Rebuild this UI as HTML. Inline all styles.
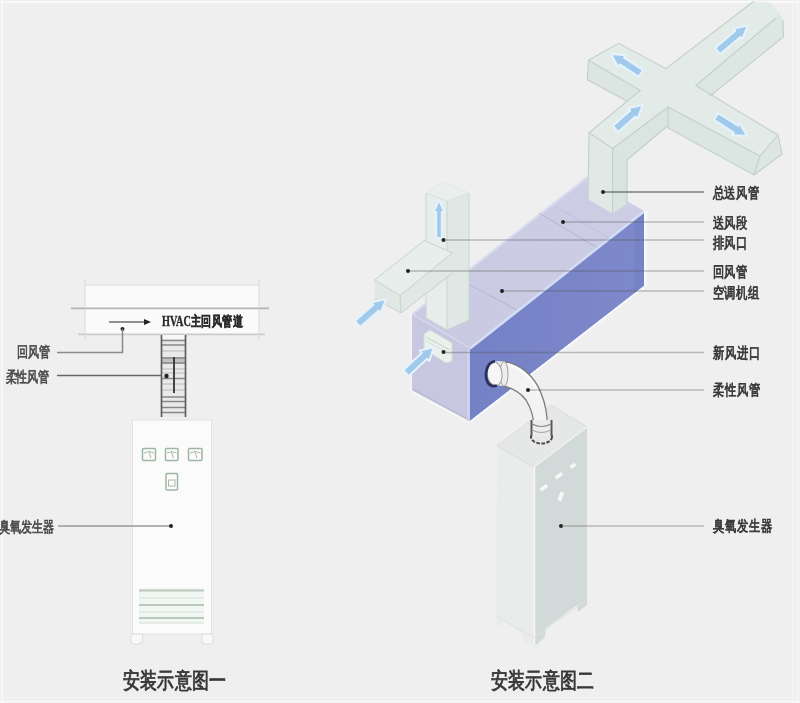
<!DOCTYPE html>
<html><head><meta charset="utf-8">
<style>
html,body{margin:0;padding:0;background:#efefef;}
body{width:800px;height:703px;overflow:hidden;position:relative;font-family:"Liberation Sans",sans-serif;}
svg{position:absolute;left:0;top:0;filter:blur(0.6px);}
text{font-family:"Liberation Sans",sans-serif;}
</style></head>
<body>
<svg width="800" height="703" viewBox="0 0 800 703">
<defs>
<linearGradient id="front" x1="0" y1="0" x2="1" y2="0">
<stop offset="0" stop-color="#7581c6"/><stop offset="1" stop-color="#7d89ca"/>
</linearGradient>
<linearGradient id="top" x1="0" y1="1" x2="1" y2="0">
<stop offset="0" stop-color="#c9cae1"/><stop offset="1" stop-color="#cdcee5"/>
</linearGradient>
<linearGradient id="fadeTop" x1="0" y1="0" x2="0" y2="1">
<stop offset="0" stop-color="#e8eeec" stop-opacity="0"/><stop offset="0.35" stop-color="#e4ece9" stop-opacity="1"/>
</linearGradient>
</defs>
<rect x="0" y="0" width="800" height="703" fill="#efefef"/>
<rect x="0" y="1" width="800" height="2" fill="#f9f9f9"/>
<rect x="1" y="0" width="2" height="703" fill="#f7f7f7"/>
<rect x="792" y="0" width="1.5" height="703" fill="#f4f4f4"/>
<rect x="797" y="0" width="1.5" height="703" fill="#f6f6f6"/>
<rect x="0" y="697" width="800" height="1.5" fill="#f4f4f4"/>
<rect x="0" y="700.5" width="800" height="2" fill="#f8f8f8"/>

<!-- ============ LEFT DIAGRAM ============ -->
<rect x="85" y="285" width="174" height="49" fill="#fafafa"/>
<line x1="71" y1="308.3" x2="269" y2="308.3" stroke="#b4b4b4" stroke-width="1.7"/>
<line x1="78" y1="334.3" x2="265" y2="334.3" stroke="#c6cdc4" stroke-width="1.7"/>
<line x1="85" y1="285" x2="259" y2="285" stroke="#d9d9d9" stroke-width="1.2"/>
<line x1="85" y1="280" x2="85" y2="340" stroke="#dadada" stroke-width="1"/>
<line x1="259" y1="280" x2="259" y2="340" stroke="#dadada" stroke-width="1"/>
<line x1="109" y1="322" x2="146" y2="322" stroke="#6a6a6a" stroke-width="1.3"/>
<polygon points="144,319 151,322 144,325" fill="#222"/>
<text transform="translate(162 326) scale(1 1.3)" font-size="11" font-weight="bold" fill="#2a2a2a" stroke="#2a2a2a" stroke-width="0.3" textLength="81" lengthAdjust="spacingAndGlyphs" style="font-family:'Liberation Serif',serif">HVAC主回风管道</text>
<circle cx="122.5" cy="329" r="2" fill="#222"/>
<polyline points="122.5,329 122.5,352.5 57,352.5" fill="none" stroke="#8a8a8a" stroke-width="1.5"/>
<line x1="57" y1="375.5" x2="166" y2="375.5" stroke="#666" stroke-width="1.5"/>
<g font-size="11.3" fill="#3e3e3e" stroke="#4a4a4a" stroke-width="0.5">
<text transform="translate(17 357) scale(1 1.35)">回风管</text>
<text transform="translate(5.5 381.5) scale(1 1.35)">柔性风管</text>
<text transform="translate(-1 531.7) scale(1 1.35)">臭氧发生器</text>
</g>

<!-- flexible duct -->
<rect x="161" y="335" width="25" height="82" fill="#ebe8e8"/>
<rect x="161" y="335" width="25" height="4" fill="#f8f8f8"/>
<rect x="161" y="357" width="25" height="7" fill="#c2c0c0"/>
<line x1="161" y1="358" x2="186" y2="358" stroke="#8a8a8a" stroke-width="1.5"/>
<line x1="161" y1="363" x2="186" y2="363" stroke="#8a8a8a" stroke-width="1.5"/>
<g stroke="#888" stroke-width="1.5">
<line x1="161" y1="340.5" x2="186" y2="340.5"/>
<line x1="161" y1="345" x2="186" y2="345"/>
<line x1="161" y1="378.5" x2="186" y2="378.5"/>
<line x1="161" y1="397" x2="186" y2="397"/>
<line x1="161" y1="401.5" x2="186" y2="401.5"/>
<line x1="161" y1="407.5" x2="186" y2="407.5"/>
<line x1="161" y1="412.5" x2="186" y2="412.5"/>
</g>
<g stroke="#c4c0c0" stroke-width="1.2">
<line x1="161" y1="351" x2="186" y2="351"/>
<line x1="161" y1="369" x2="186" y2="369"/>
<line x1="161" y1="373" x2="186" y2="373"/>
<line x1="161" y1="384" x2="186" y2="384"/>
<line x1="161" y1="390" x2="186" y2="390"/>
</g>
<g stroke="#5e5e5e" stroke-width="1.7">
<line x1="161.5" y1="335" x2="161.5" y2="417"/>
<line x1="185.5" y1="335" x2="185.5" y2="417"/>
</g>
<line x1="174" y1="357" x2="174" y2="393" stroke="#333" stroke-width="1.8"/>
<circle cx="166.5" cy="376" r="2.2" fill="#222"/>

<!-- cabinet 1 -->
<rect x="132.5" y="420" width="79" height="214" fill="#fbfbfb" stroke="#e2e2e2" stroke-width="1"/>
<g fill="none" stroke="#9db6a3" stroke-width="1.5">
<rect x="142.5" y="448.5" width="13" height="12" rx="1"/>
<rect x="165.5" y="448.5" width="12.5" height="12" rx="1"/>
<rect x="188.5" y="448.5" width="13.5" height="12" rx="1"/>
<rect x="166" y="473.5" width="11.5" height="16.5" rx="1"/>
</g>
<g fill="none" stroke="#a9b7ac" stroke-width="1">
<path d="M144,453 Q149,450 154,453"/><line x1="149" y1="452" x2="151" y2="458"/>
<path d="M167,453 Q171.5,450 176.5,453"/><line x1="171.5" y1="452" x2="173.5" y2="458"/>
<path d="M190,453 Q195,450 200.5,453"/><line x1="195" y1="452" x2="197" y2="458"/>
<rect x="168.5" y="480" width="6.5" height="6"/>
</g>
<rect x="139" y="588" width="65" height="35" fill="#f0f6f2"/>
<g stroke="#b9c8bd" stroke-width="1.8">
<line x1="139" y1="590.5" x2="204" y2="590.5"/>
<line x1="139" y1="605" x2="204" y2="605"/>
<line x1="139" y1="618" x2="204" y2="618"/>
</g>
<g stroke="#d8e0da" stroke-width="1">
<line x1="139" y1="598" x2="204" y2="598"/>
<line x1="139" y1="612" x2="204" y2="612"/>
<line x1="139" y1="623" x2="204" y2="623"/>
</g>
<path d="M131,634 L131,643 Q136,646 142,643 L143,634 Z" fill="#f8f8f8" stroke="#dcdcdc" stroke-width="1"/>
<path d="M202,634 L202,643 Q207,646 213,643 L213,634 Z" fill="#f8f8f8" stroke="#dcdcdc" stroke-width="1"/>
<line x1="58" y1="526" x2="170" y2="526" stroke="#9a9a9a" stroke-width="1.5"/>
<circle cx="171" cy="526" r="2" fill="#222"/>

<text transform="translate(123 688) scale(1 1.3)" font-size="17.2" fill="#333" stroke="#3a3a3a" stroke-width="0.7">安装示意图一</text>

<!-- ============ RIGHT DIAGRAM ============ -->
<!-- AHU box -->
<polygon points="412,314 470,348 644,211 586,177" fill="url(#top)"/>
<polygon points="412,314 470,348 470,421 412,390" fill="#c7c7e1"/>
<polygon points="470,348 644,211 644,286 470,421" fill="url(#front)"/>
<polygon points="634,219 644,211 644,286 634,294" fill="#6b77bd" opacity="0.35"/>
<line x1="470" y1="348.5" x2="644" y2="211.5" stroke="#d3def4" stroke-width="2.5"/>
<line x1="412" y1="314" x2="470" y2="348" stroke="#d8daee" stroke-width="1.2"/>
<line x1="413" y1="313.5" x2="587" y2="177.5" stroke="#d9ddf0" stroke-width="2"/>
<line x1="470" y1="422" x2="644" y2="287" stroke="#f6f8fc" stroke-width="2"/>
<line x1="645.5" y1="211" x2="645.5" y2="287" stroke="#f7f8fb" stroke-width="2.5"/>
<line x1="411" y1="314" x2="411" y2="391" stroke="#f5f5f8" stroke-width="1.5"/>
<line x1="413" y1="389.5" x2="470" y2="420.5" stroke="#b9bad3" stroke-width="1.5"/>
<line x1="412" y1="392" x2="470" y2="423" stroke="#f5f6f9" stroke-width="1.5"/>
<line x1="468.5" y1="349" x2="468.5" y2="421" stroke="#ccd4f0" stroke-width="2.5"/>
<!-- top face dividers -->
<line x1="470" y1="285" x2="517" y2="310" stroke="#b3b5d6" stroke-width="1"/>
<line x1="539" y1="213" x2="596" y2="247" stroke="#b3b5d6" stroke-width="1"/>
<line x1="555" y1="206" x2="609" y2="238" stroke="#bfc1de" stroke-width="1"/>
<polygon points="586,177 644,211 627,205 586,190" fill="#d0d4ea" opacity="0.5"/>

<!-- exhaust duct vertical -->
<polygon points="426,193 447,201 447,330 426,318" fill="#e6edeb"/>
<polygon points="447,201 469,193 469,320 447,330" fill="#e0e8e5"/>
<polygon points="426,193 444,182 469,193 447,201" fill="#e9efed"/>
<g fill="none" stroke="#c9d5d0" stroke-width="1">
<polyline points="426,193 426,318 447,330 469,320 469,193"/>
<line x1="447" y1="201" x2="447" y2="330"/>
<polyline points="426,193 447,201 469,193" stroke="#d8e0dc"/>
<polyline points="426,193 444,182 469,193" stroke="#e2e8e5"/>
</g>
<!-- return duct horizontal -->
<polygon points="374.5,280 424.5,240.5 452.5,253 400,295.5" fill="#e7eeec"/>
<polygon points="400,295.5 452.5,253 452.5,273 401,313" fill="#e0e8e5"/>
<polygon points="374.5,280 400,295.5 401,313 375,299" fill="#e0e8e5"/>
<g fill="none" stroke="#c6d3cd" stroke-width="1">
<polyline points="374.5,280 424.5,240.5 452.5,253 400,295.5 374.5,280"/>
<polyline points="375,299 401,313 452.5,273"/>
<line x1="400" y1="295.5" x2="401" y2="313"/>
</g>

<!-- fresh air inlet -->
<polygon points="424,334 430,330 452,343 452,361 446,363 424,349" fill="#e9f1eb" stroke="#d2ddd6" stroke-width="1"/>
<line x1="426" y1="337" x2="450" y2="350" stroke="#cbd8cf" stroke-width="1.2"/>
<line x1="426" y1="341" x2="450" y2="354" stroke="#d6e1da" stroke-width="1"/>
<!-- supply vertical duct + cross -->
<polygon points="589,132.8 612.6,148.5 612.6,213.7 588,199" fill="#e0e9e6"/>
<polygon points="612.6,148.5 627,160 627,204 612.6,213.7" fill="#d9e3e0"/>
<polygon points="588.5,60.2 618.7,43.3 665.9,68.7 753.5,1.5 771,3 778,11 776,18 695.75,85.5 778,135 760,156 668,107 612.6,148.5 589,132.8 627,101.3 640.5,90.5" fill="#e3ebe9"/>
<polygon points="588.5,60.2 640.5,90.5 627,101.3 587.3,79.6" fill="#dbe5e2"/>
<polygon points="612.6,148.5 668,107 668,125.5 627,160" fill="#dae4e1"/>
<polygon points="668,107 760,156 754,175 668,128" fill="#dbe5e2"/>
<polygon points="760,156 778,135 782,154 754,175" fill="#dde6e3"/>
<polygon points="695.75,85.5 776,18 778,11 783,20 783.5,36.75 710,96" fill="#dce6e3"/>
<g fill="none" stroke="#c2d0c9" stroke-width="1.1">
<polyline points="588.5,60.2 618.7,43.3 665.9,68.7 753.5,1.5"/>
<polyline points="776,18 695.75,85.5 778,135 760,156 668,107 612.6,148.5 589,132.8 627,101.3 640.5,90.5 588.5,60.2 587.3,79.6 627,101.3"/>
<polyline points="668,107 668,128 754,175 760,156"/>
<polyline points="754,175 782,154 778,135"/>
<polyline points="783,20 783.5,36.75 710,96"/>
<polyline points="627,160 668,125.5"/>
<line x1="589" y1="132.8" x2="588" y2="199"/>
<line x1="612.6" y1="148.5" x2="612.6" y2="213.7"/>
<line x1="627" y1="160" x2="627" y2="204"/>
</g>
<!-- cross arrows -->

<g fill="#9fcaec" stroke="#e6f3fc" stroke-width="2" stroke-linejoin="round">
<path d="M643.2,70.1 L624.1,57.7 L625.7,55.2 L611.0,54.0 L618.1,67.0 L619.7,64.4 L638.8,76.9 Z"/>
<path d="M618.2,132.0 L635.5,116.6 L637.5,118.9 L642.6,105.0 L628.2,108.4 L630.2,110.6 L612.8,126.0 Z"/>
<path d="M720.2,54.1 L740.4,37.0 L742.3,39.2 L747.7,25.5 L733.3,28.6 L735.2,30.9 L715.0,47.9 Z"/>
<path d="M713.9,119.9 L733.9,132.5 L732.3,135.0 L747.0,136.0 L739.7,123.2 L738.1,125.7 L718.1,113.1 Z"/>
<path d="M360.1,327.0 L378.9,310.6 L380.8,312.8 L386.0,299.0 L371.6,302.3 L373.6,304.6 L354.9,321.0 Z"/>
<path d="M408.7,375.9 L427.2,358.8 L429.2,361.0 L434.0,347.0 L419.7,350.7 L421.8,352.9 L403.3,370.1 Z"/>
<path d="M441.8,238.0 L441.8,212.0 L444.5,212.0 L439.0,200.0 L433.5,212.0 L436.2,212.0 L436.2,238.0 Z"/>
</g>
<!-- cabinet 2 -->
<polygon points="497,446 534,467 534,647 522,641 522,633 503,621 502,627 496,625" fill="#eaecec"/>
<polygon points="534,467 587,427 587,605 578,612 577,605 546,628 545,637 534,647" fill="#d1dad8"/>
<polygon points="497,446 551,405 587,427 534,467" fill="#e6e8e7" stroke="#d8dcda" stroke-width="1"/>
<line x1="534" y1="467" x2="587" y2="427" stroke="#f2f4f3" stroke-width="1.2"/>
<line x1="534.5" y1="467" x2="534.5" y2="646" stroke="#f4f6f5" stroke-width="1.5"/>
<polyline points="496,615 522,631 534,638 546,629 587,600" fill="none" stroke="#dde2e1" stroke-width="1"/>
<g fill="#f4f8f6">
<rect x="540" y="486" width="8" height="3.5" transform="rotate(-37 544 488)"/>
<rect x="555" y="474" width="8" height="3.5" transform="rotate(-37 559 476)"/>
<rect x="570" y="464" width="6" height="3.5" transform="rotate(-37 573 466)"/>
<rect x="559" y="492" width="4" height="9" transform="rotate(20 561 496)"/>
</g>

<!-- flexible hose right -->
<path d="M503,361.5 C520,363 535,377 541,393 C546,405 547.5,417 547.5,428 L534,428 C534,419 531.5,409 526,400 C520,392 512,388 503,386 Z" fill="#f3f3f3" stroke="#7a7a7a" stroke-width="1.3"/>
<path d="M506,364 C520,367 532,378 538,393" fill="none" stroke="#ffffff" stroke-width="2" opacity="0.8"/>
<ellipse cx="541.5" cy="437" rx="10.5" ry="6.5" fill="#e8e8e8" stroke="#4a4a4a" stroke-width="2" stroke-dasharray="3.5 1.5"/>
<rect x="531.5" y="420" width="20" height="16" fill="#ececec"/>
<line x1="531.5" y1="420" x2="531.5" y2="436" stroke="#5a5a5a" stroke-width="2"/>
<line x1="551.5" y1="420" x2="551.5" y2="436" stroke="#5a5a5a" stroke-width="2"/>
<path d="M532,424 Q541.5,429 551,424" fill="none" stroke="#8a8a8a" stroke-width="1.2"/>
<path d="M532,430 Q541.5,435 551,430" fill="none" stroke="#a0a0a0" stroke-width="1"/>
<path d="M494,361 L504,361.5 L504,386 L494,385 Z" fill="#f0f0f0"/>
<ellipse cx="504" cy="373.8" rx="4" ry="12.3" fill="#eeeeee" stroke="#a0a0a0" stroke-width="1"/>
<ellipse cx="494.5" cy="373.5" rx="7.5" ry="12.3" transform="rotate(-8 494.5 373.5)" fill="#f6f6f6" stroke="#9a9a9a" stroke-width="1"/>
<path d="M495,361.3 C486,362 484.5,376 487.5,382 C490,386.5 494,386.5 497,385.5" fill="none" stroke="#2c3160" stroke-width="2.8"/>
<circle cx="561" cy="526" r="2" fill="#222"/>

<!-- right labels -->
<line x1="603" y1="192" x2="704" y2="192" stroke="#7a7a7a" stroke-width="1.6"/>
<g stroke="#555" stroke-width="1.5" opacity="0.36">
<line x1="563" y1="222" x2="704" y2="222"/>
<line x1="443.5" y1="240" x2="704" y2="240"/>
<line x1="408" y1="271" x2="704" y2="271"/>
<line x1="502" y1="291" x2="704" y2="291"/>
<line x1="443.5" y1="352.4" x2="704" y2="352.4"/>
<line x1="528" y1="390" x2="704" y2="390"/>
<line x1="561" y1="526" x2="704" y2="526"/>
</g>
<g fill="#222">
<circle cx="603" cy="192" r="2"/>
<circle cx="563" cy="222" r="2"/>
<circle cx="443.5" cy="240" r="2"/>
<circle cx="408" cy="271" r="2"/>
<circle cx="502" cy="291" r="2"/>
<circle cx="443.5" cy="352" r="2"/>
<circle cx="528" cy="390" r="2"/>
</g>
<g font-size="11.5" fill="#2e2e2e" stroke="#3a3a3a" stroke-width="0.6">
<text transform="translate(712.6 197.5) scale(1 1.33)">总送风管</text>
<text transform="translate(712.6 227.5) scale(1 1.33)">送风段</text>
<text transform="translate(712.6 247.5) scale(1 1.33)">排风口</text>
<text transform="translate(712.6 276.5) scale(1 1.33)">回风管</text>
<text transform="translate(712.6 297.5) scale(1 1.33)">空调机组</text>
<text transform="translate(713.2 357.5) scale(1 1.33)">新风进口</text>
<text transform="translate(713.2 394.5) scale(1 1.33)">柔性风管</text>
<text transform="translate(713.2 531) scale(1 1.33)">臭氧发生器</text>
</g>
<text transform="translate(491 688) scale(1 1.3)" font-size="17.2" fill="#333" stroke="#3a3a3a" stroke-width="0.7">安装示意图二</text>
</svg>
</body></html>
